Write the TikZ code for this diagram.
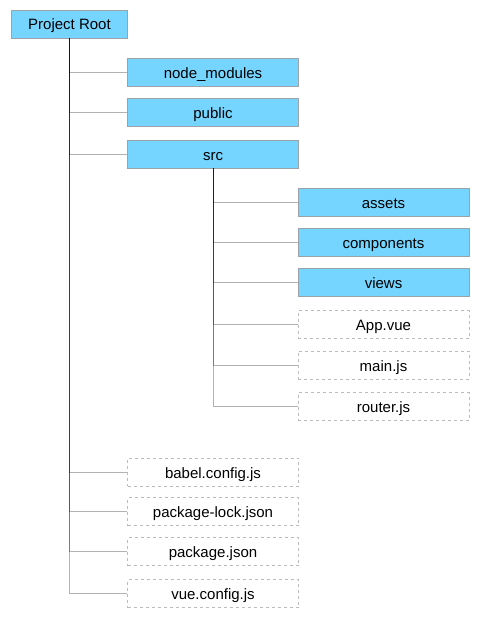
\documentclass[tikz,border=0pt]{standalone}
\usepackage{fontspec}
\setmainfont{Liberation Sans}
\usetikzlibrary{positioning}

\definecolor{dirblue}{HTML}{76D5FF}
\definecolor{boxgray}{HTML}{9AA3A8}
\definecolor{filegray}{HTML}{BBBBBB}

\tikzset{
  dir/.style={draw=boxgray, fill=dirblue, line width=0.8pt, minimum width=171pt, minimum height=28pt, inner sep=0pt, text height=14pt, text depth=2pt, font=\fontsize{15}{18}\selectfont},
  file/.style={dir, draw=filegray, fill=white, dash pattern=on 3pt off 3pt},
  conn/.style={draw=black, opacity=0.3, line width=0.9pt}
}

\begin{document}
\begin{tikzpicture}[x=1pt,y=-1pt]
		\useasboundingbox (0,0) rectangle (488,626);
		\node[dir, minimum width=116pt] (root) at (69.5,24) {Project Root};
		\node[dir] (nodemodules) at (213,72) {node\_modules};
		\node[dir] (public) at (213,112.5) {public};
		\node[dir] (src) at (213,154) {src};
		\node[dir] (assets) at (383.5,202.5) {assets};
		\node[dir] (components) at (383.5,242.5) {components};
		\node[dir] (views) at (383.5,282.5) {views};
		\node[file] (appvue) at (383.5,324.5) {App.vue};
		\node[file] (mainjs) at (383.5,365) {main.js};
		\node[file] (routerjs) at (383.5,406.5) {router.js};
		\node[file] (babel) at (213,472) {babel.config.js};
		\node[file] (pkglock) at (213,511.5) {package-lock.json};
		\node[file] (pkgjson) at (213,551.5) {package.json};
		\node[file] (vueconfig) at (213,593.5) {vue.config.js};
		% trunk
		\foreach \c in {nodemodules,public,src,babel,pkglock,pkgjson,vueconfig}
			\draw[conn] (root.south) |- (\c.west);
		% src branch
		\foreach \c in {assets,components,views,appvue,mainjs,routerjs}
			\draw[conn] (src.south) |- (\c.west);
\end{tikzpicture}
\end{document}
